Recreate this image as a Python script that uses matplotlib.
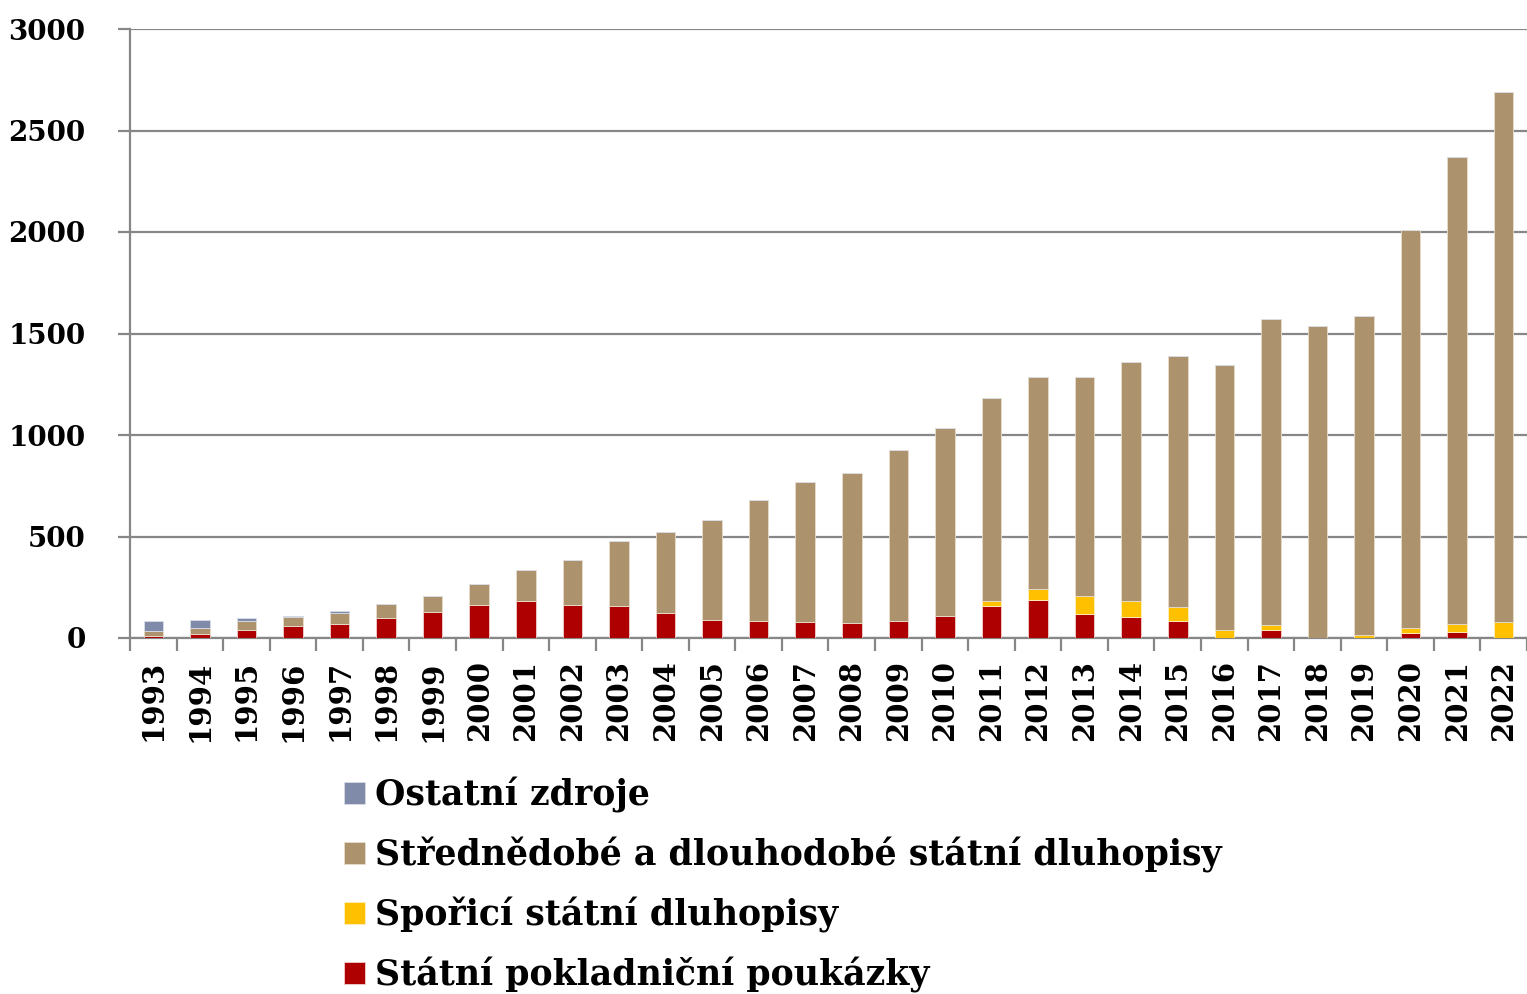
import matplotlib
matplotlib.use("Agg")
import matplotlib.pyplot as plt
import numpy as np

years = [str(y) for y in range(1993, 2023)]

spp = [12, 20, 39, 60, 70, 97, 128, 164, 183, 162, 159, 123, 90, 85, 80, 75, 85, 109,
       159, 188, 119, 105, 82, 0, 40, 0, 0, 26, 31, 0]
spor = [0, 0, 0, 0, 0, 0, 0, 0, 0, 0, 0, 0, 0, 0, 0, 0, 0, 0,
        23, 53, 89, 79, 69, 40, 23, 0, 15, 23, 39, 80]
sdsd = [21, 30, 43, 43, 53, 71, 77, 103, 152, 222, 320, 399, 489, 593, 688, 737, 840, 926,
        999, 1047, 1080, 1177, 1237, 1303, 1510, 1539, 1573, 1962, 2297, 2610]
ost = [50, 38, 16, 5, 10, 0, 0, 0, 0, 0, 0, 0, 0, 0, 0, 0, 0, 0,
       0, 0, 0, 0, 0, 0, 0, 0, 0, 0, 0, 0]

labels = ["Ostatní zdroje", "Střednědobé a dlouhodobé státní dluhopisy",
          "Spořicí státní dluhopisy", "Státní pokladniční poukázky"]
colors = ["#7F8BA8", "#AC936D", "#FFC000", "#AE0000"]

plt.rcParams['font.family'] = ['DejaVu Serif']
plt.rcParams['font.weight'] = 'bold'

fig = plt.figure(figsize=(15.27, 9.94), dpi=100)
ax = fig.add_axes([130/1527, (994-638)/994, 1397/1527, 609/994])

x = np.arange(len(years))
w = 0.42
b1 = np.array(spp)
b2 = b1 + np.array(spor)
b3 = b2 + np.array(sdsd)
h_spp = ax.bar(x, spp, w, color=colors[3], edgecolor='#f0d0d0', linewidth=0.6, zorder=3)
h_spor = ax.bar(x, spor, w, bottom=b1, color=colors[2], edgecolor='#fff0c0', linewidth=0.6, zorder=3)
h_sdsd = ax.bar(x, sdsd, w, bottom=b2, color=colors[1], edgecolor='#e8dccb', linewidth=0.6, zorder=3)
h_ost = ax.bar(x, ost, w, bottom=b3, color=colors[0], edgecolor='#d8dce6', linewidth=0.6, zorder=3)

ax.set_ylim(0, 3000)
ax.set_xlim(-0.5, 29.42)
ax.set_yticks(range(0, 3001, 500))
ax.yaxis.grid(True, color='#878787', linewidth=1.6, zorder=0)
ax.set_axisbelow(True)
for s in ['top', 'right']:
    ax.spines[s].set_visible(False)
for s in ['left', 'bottom']:
    ax.spines[s].set_color('#878787')
    ax.spines[s].set_linewidth(1.6)

ax.set_xticks(x)
ax.set_xticklabels(years, rotation=90, fontsize=21, fontweight='bold')
ax.set_xticks(np.arange(-0.5, 30, 1), minor=True)
ax.tick_params(axis='x', which='major', length=0, pad=16)
ax.tick_params(axis='x', which='minor', length=9, width=1.6, color='#878787')
ax.tick_params(axis='y', length=9, width=1.6, color='#878787', pad=23, labelsize=20)
for t in ax.get_yticklabels():
    t.set_fontweight('bold')

fig.legend([h_ost, h_sdsd, h_spor, h_spp], labels, loc='upper left',
           bbox_to_anchor=(344/1527, 1 - 777/994), frameon=False,
           prop={'family': 'DejaVu Serif', 'weight': 'bold', 'size': 25},
           handlelength=0.6, handleheight=0.6, handletextpad=0.3,
           labelspacing=0.69, borderpad=0, borderaxespad=0)

fig.savefig("out.png", dpi=100)
